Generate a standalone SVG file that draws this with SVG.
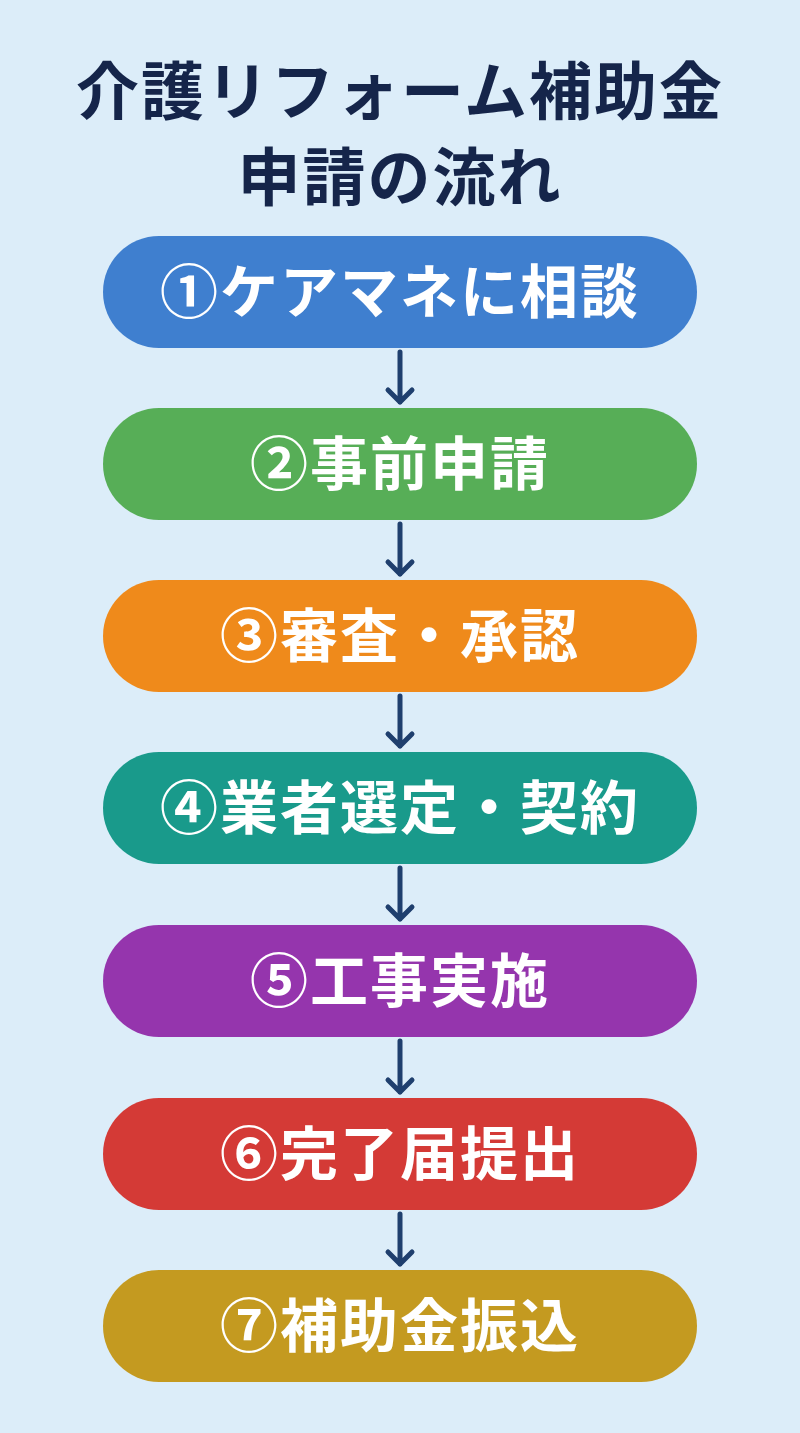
<svg xmlns="http://www.w3.org/2000/svg" width="800" height="1433" viewBox="0 0 800 1433">
<style>
.t{font-family:"Noto Sans CJK JP","Noto Sans",sans-serif;font-weight:bold;text-anchor:middle}
.title{fill:#15254a;font-size:63px;letter-spacing:2px}
.lbl{fill:#fff;font-size:58px;letter-spacing:2px}
.ar{stroke:#1f3f6e;stroke-width:5;fill:none;stroke-linecap:round;stroke-linejoin:round}
</style>
<rect width="800" height="1433" fill="#dcedf9"/>
<text class="t title" x="400" y="114">介護リフォーム補助金</text>
<text class="t title" x="400" y="200">申請の流れ</text>
<g id="connectors">
<g class="ar"><path d="M400 352V402M388 390L400 402L412 390"/><path d="M400 524V574M388 562L400 574L412 562"/><path d="M400 696V746M388 734L400 746L412 734"/><path d="M400 868V919M388 907L400 919L412 907"/><path d="M400 1041V1092M388 1080L400 1092L412 1080"/><path d="M400 1214V1264M388 1252L400 1264L412 1252"/></g>
</g>
<g id="n1"><rect x="103" y="236" width="594" height="112" rx="56" fill="#3f7fcf"/><text class="t lbl" x="400" y="313">①ケアマネに相談</text></g>
<g id="n2"><rect x="103" y="408" width="594" height="112" rx="56" fill="#57ae57"/><text class="t lbl" x="400" y="485">②事前申請</text></g>
<g id="n3"><rect x="103" y="580" width="594" height="112" rx="56" fill="#ef8a1b"/><text class="t lbl" x="400" y="657">③審査・承認</text></g>
<g id="n4"><rect x="103" y="752" width="594" height="112" rx="56" fill="#199a8b"/><text class="t lbl" x="400" y="829">④業者選定・契約</text></g>
<g id="n5"><rect x="103" y="925" width="594" height="112" rx="56" fill="#9535ad"/><text class="t lbl" x="400" y="1002">⑤工事実施</text></g>
<g id="n6"><rect x="103" y="1098" width="594" height="112" rx="56" fill="#d43a36"/><text class="t lbl" x="400" y="1175">⑥完了届提出</text></g>
<g id="n7"><rect x="103" y="1270" width="594" height="112" rx="56" fill="#c49a20"/><text class="t lbl" x="400" y="1347">⑦補助金振込</text></g>
</svg>
